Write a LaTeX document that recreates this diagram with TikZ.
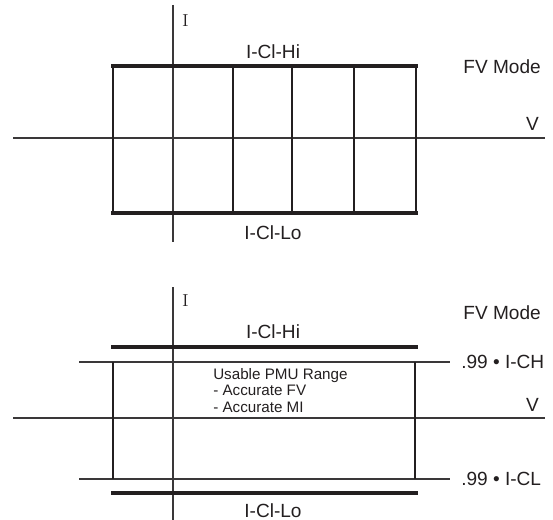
\documentclass[tikz,border=0pt]{standalone}
\usepackage{fontspec}
\setsansfont{Liberation Sans}
\usetikzlibrary{calc}
\definecolor{ink}{HTML}{231F20}
\definecolor{axisgrey}{HTML}{3A3839}
\newcommand{\lbl}{\sffamily\fontsize{14.3}{16}\selectfont}
\newcommand{\note}{\sffamily\fontsize{11.4}{12.4}\selectfont}
\tikzset{
  axisline/.style={axisgrey,line width=1.1pt},
  clampline/.style={ink,line width=3.6pt},
  gridline/.style={ink,line width=1.5pt},
  lbltext/.style={inner sep=0,text=ink,font=\lbl},
  axislbl/.style={inner sep=0,text=ink,font=\fontsize{13}{15}\selectfont}
}
\begin{document}
\begin{tikzpicture}[x=0.75pt,y=-0.75pt]
\useasboundingbox (0,0) rectangle (553,520);
% upper panel
\draw[axisline] (13,138) -- (545,138);
\draw[axisline] (173,5) -- (173,242);
\foreach \gx in {113,233,292,354,416}
  \draw[gridline] (\gx,66) -- (\gx,213);
\draw[clampline] (111,66) -- (418,66);
\draw[clampline] (111,213) -- (418,213);
\node[axislbl,anchor=west] (iup) at (182,21) {I};
\node[lbltext] (hiup) at (273,52) {I-Cl-Hi};
\node[lbltext] (loup) at (273,233) {I-Cl-Lo};
\node[lbltext,anchor=east] (modeup) at (541,67) {FV Mode};
\node[lbltext,anchor=base east] (vup) at (539,131) {V};
% lower panel
\draw[axisline] (13,418) -- (545,418);
\draw[axisline] (173,287) -- (173,520);
\draw[axisline] (79,362) -- (450,362);
\draw[axisline] (79,479) -- (450,479);
\draw[gridline] (113,362) -- (113,479);
\draw[gridline] (415,362) -- (415,479);
\draw[clampline] (111,347) -- (418,347);
\draw[clampline] (111,493) -- (418,493);
\node[axislbl,anchor=west] (ilo) at (182,301) {I};
\node[lbltext] (hilo) at (273,332) {I-Cl-Hi};
\node[lbltext] (lolo) at (273,511) {I-Cl-Lo};
\node[lbltext,anchor=east] (modelo) at (541,313) {FV Mode};
\node[lbltext,anchor=base east] (vlo) at (539,411) {V};
\node[lbltext,anchor=west] (ich) at (461,362) {.99 • I-CH};
\node[lbltext,anchor=west] (icl) at (461,479) {.99 • I-CL};
\node[inner sep=0,text=ink,font=\note,anchor=north west,align=left] (range) at (213,368)
  {Usable PMU Range\\- Accurate FV\\- Accurate MI};
\end{tikzpicture}
\end{document}
